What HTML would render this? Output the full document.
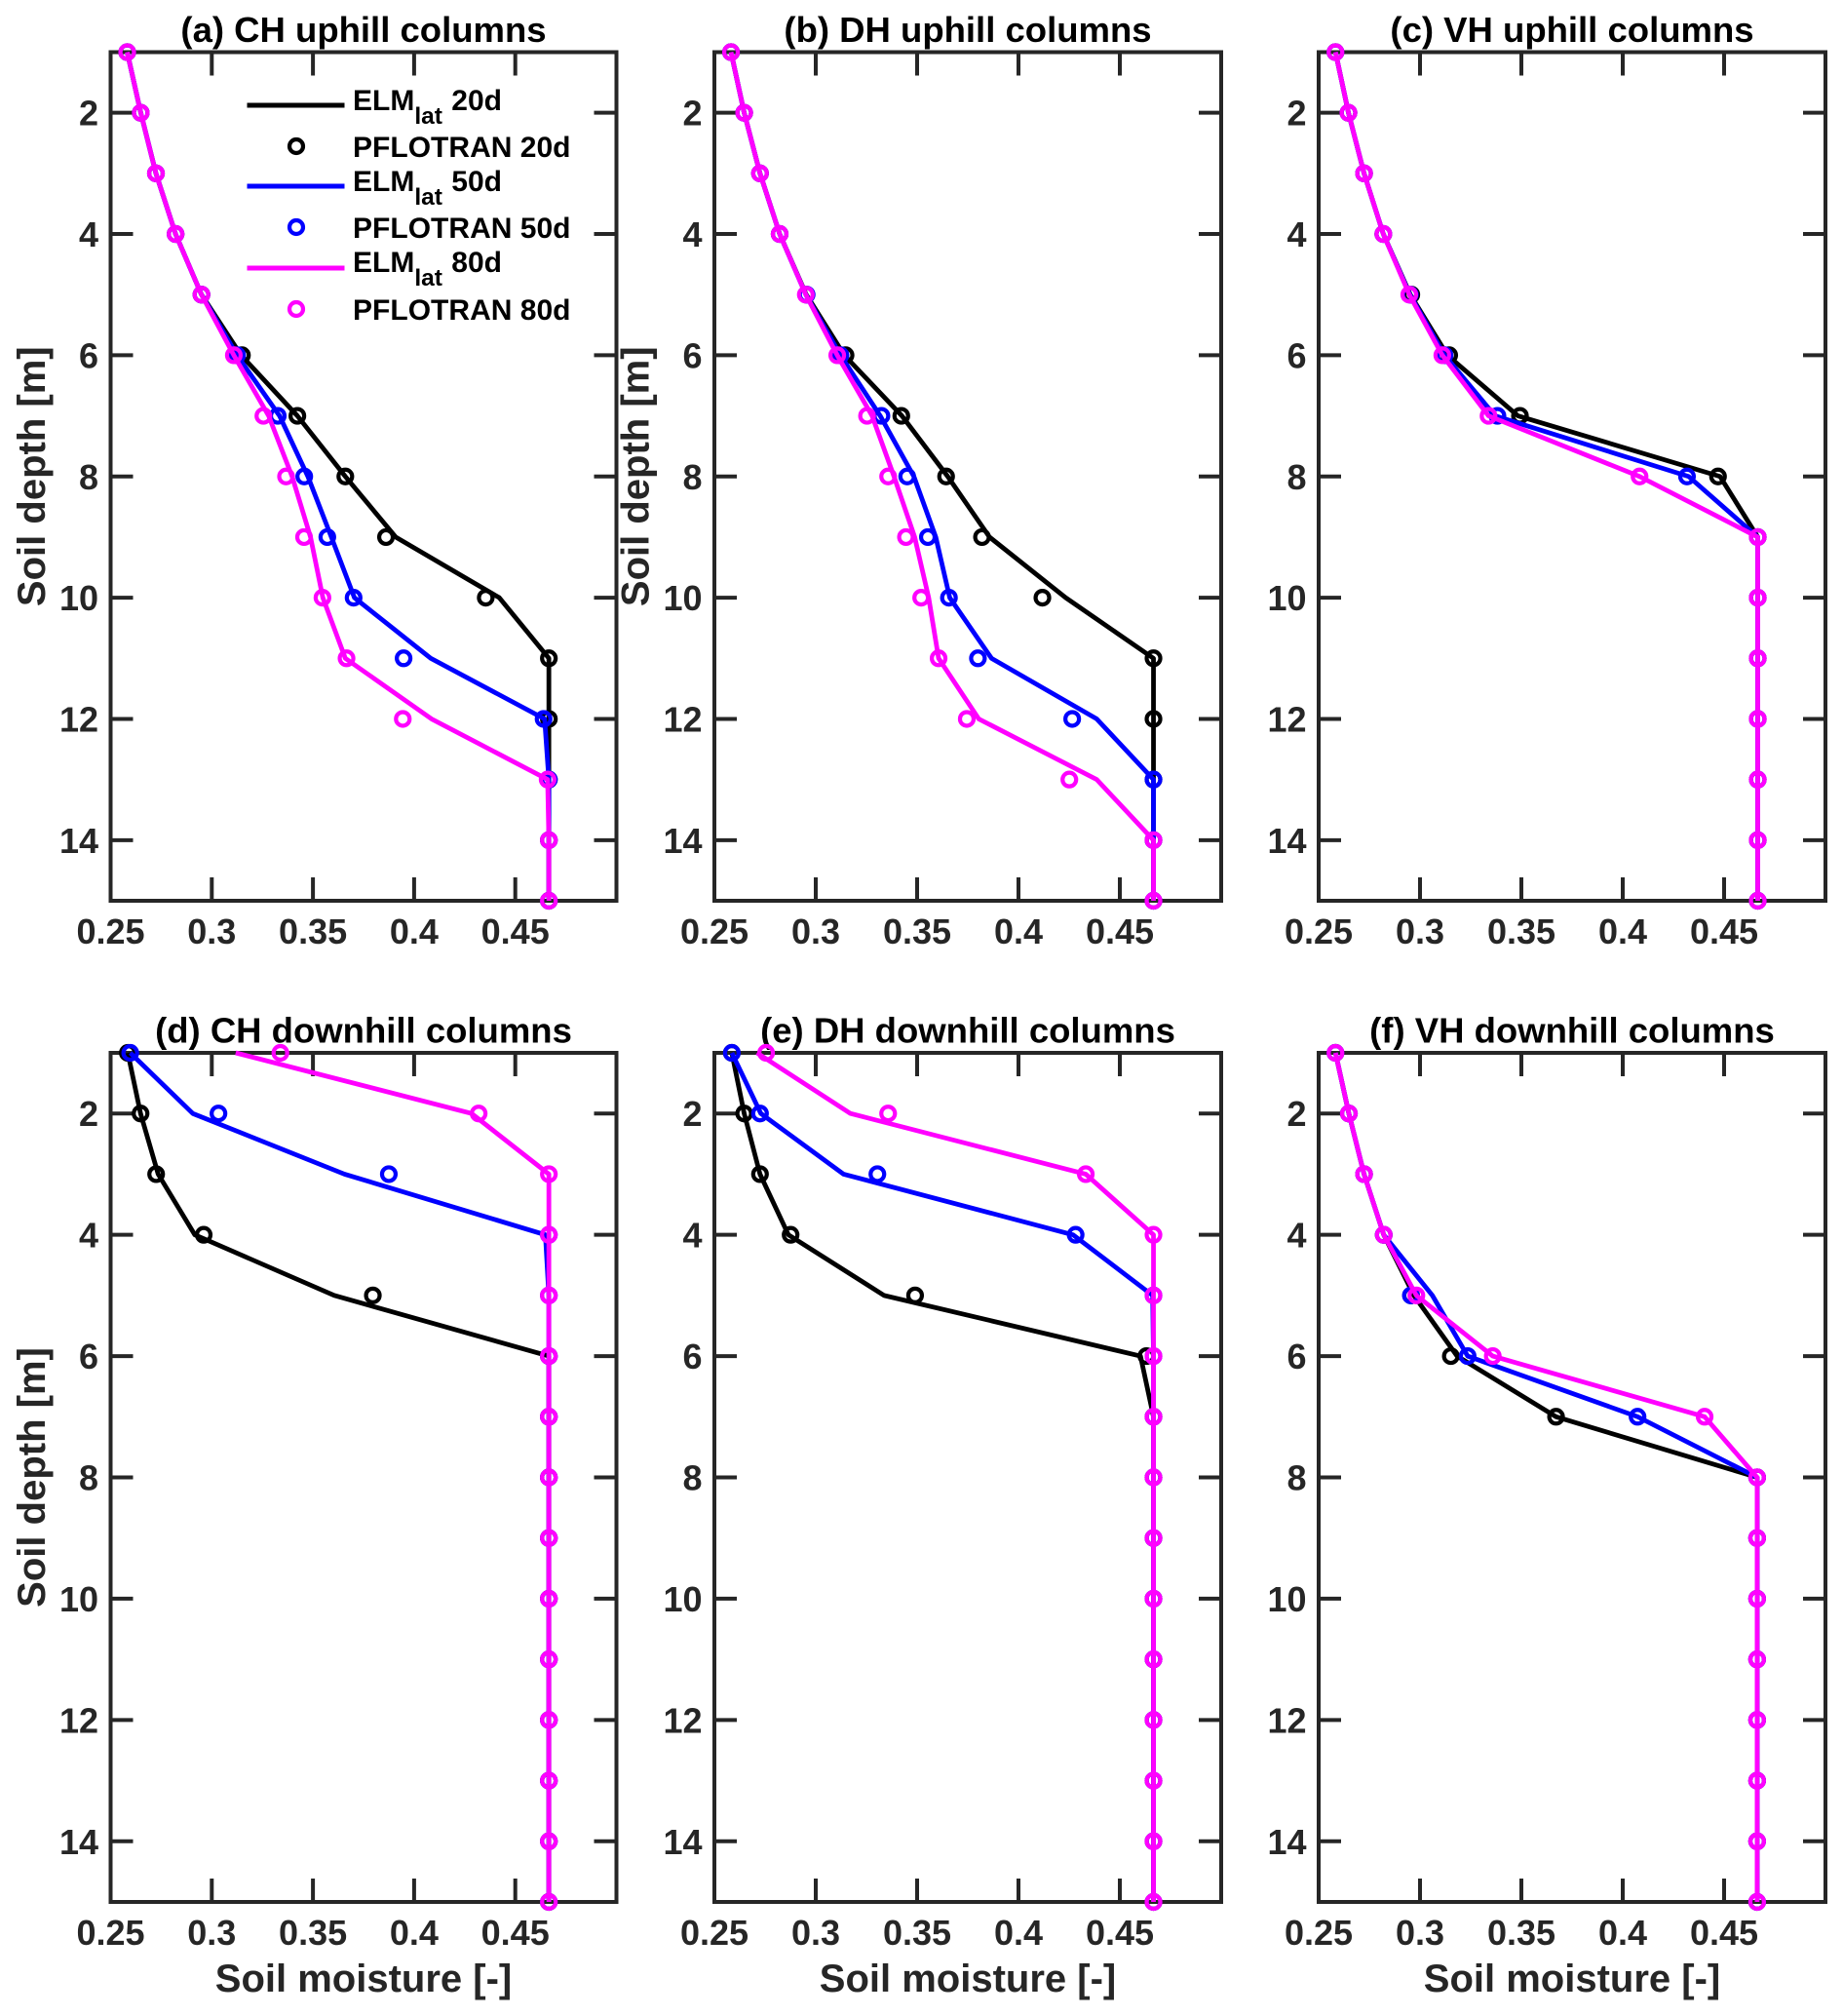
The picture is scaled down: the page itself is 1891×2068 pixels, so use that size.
<!DOCTYPE html>
<html lang="en">
<head>
<meta charset="utf-8">
<title>Soil moisture profiles</title>
<style>
html,body{margin:0;padding:0;background:#fff;}
body{width:1891px;height:2068px;overflow:hidden;}
svg{display:block;}
text{font-family:"Liberation Sans",Arial,sans-serif;font-weight:700;}
</style>
</head>
<body>
<svg id="figure" xmlns="http://www.w3.org/2000/svg" width="1891" height="2068" viewBox="0 0 1891 2068">
  <rect x="0" y="0" width="1891" height="2068" fill="#fff"/>
  <g id="panels"></g>
  <g id="legend" font-size="30" fill="#000">
    <g>
      <line x1="253.5" y1="108" x2="353.5" y2="108" stroke="#000" stroke-width="5"/>
      <text x="362" y="113">ELM<tspan font-size="24.5" dy="14">lat</tspan><tspan dy="-14" dx="1"> 20d</tspan></text>
    </g>
    <g>
      <circle cx="304" cy="150" r="7" fill="none" stroke="#000" stroke-width="4.2"/>
      <text x="362" y="161" textLength="223.5">PFLOTRAN 20d</text>
    </g>
    <g>
      <line x1="253.5" y1="191" x2="353.5" y2="191" stroke="#00f" stroke-width="5"/>
      <text x="362" y="196">ELM<tspan font-size="24.5" dy="14">lat</tspan><tspan dy="-14" dx="1"> 50d</tspan></text>
    </g>
    <g>
      <circle cx="304" cy="233" r="7" fill="none" stroke="#00f" stroke-width="4.2"/>
      <text x="362" y="244" textLength="223.5">PFLOTRAN 50d</text>
    </g>
    <g>
      <line x1="253.5" y1="275" x2="353.5" y2="275" stroke="#f0f" stroke-width="5"/>
      <text x="362" y="279">ELM<tspan font-size="24.5" dy="14">lat</tspan><tspan dy="-14" dx="1"> 80d</tspan></text>
    </g>
    <g>
      <circle cx="304" cy="317" r="7" fill="none" stroke="#f0f" stroke-width="4.2"/>
      <text x="362" y="328" textLength="223.5">PFLOTRAN 80d</text>
    </g>
  </g>
</svg>
<script>
// ---- shared axis data ----
const depths = [1,2,3,4,5,6,7,8,9,10,11,12,13,14,15];
const xTickValues = [0.25,0.3,0.35,0.4,0.45];
const xTickLabels = ['0.25','0.3','0.35','0.4','0.45'];
const yTickValues = [2,4,6,8,10,12,14];
const yTickLabels = ['2','4','6','8','10','12','14'];
const xLabelText = 'Soil moisture [-]';
const yLabelText = 'Soil depth [m]';

// ---- (a) CH uphill ----
const aElm20 = [.2582,.2649,.2724,.2821,.2949,.3145,.3423,.3660,.3909,.4421,.4666,.4666,.4666,.4666,.4666];
const aPfl20 = [.2582,.2649,.2724,.2821,.2949,.3149,.3423,.3660,.3861,.4354,.4666,.4666,.4666,.4666,.4666];
const aElm50 = [.2582,.2649,.2724,.2821,.2949,.3125,.3335,.3475,.3591,.3705,.4082,.4645,.4666,.4666,.4666];
const aPfl50 = [.2582,.2649,.2724,.2821,.2949,.3125,.3326,.3457,.3571,.3701,.3948,.4640,.4666,.4666,.4666];
const aElm80 = [.2582,.2649,.2724,.2821,.2949,.3109,.3281,.3397,.3488,.3549,.3660,.4086,.4660,.4666,.4666];
const aPfl80 = [.2582,.2649,.2724,.2821,.2949,.3109,.3255,.3367,.3456,.3547,.3666,.3944,.4660,.4666,.4666];

// ---- (b) DH uphill ----
const bElm20 = [.2582,.2647,.2725,.2822,.2953,.3141,.3425,.3651,.3857,.4233,.4666,.4666,.4666,.4666,.4666];
const bPfl20 = [.2582,.2647,.2725,.2822,.2953,.3147,.3422,.3643,.3820,.4118,.4666,.4666,.4666,.4666,.4666];
const bElm50 = [.2582,.2647,.2725,.2822,.2951,.3122,.3318,.3484,.3592,.3661,.3867,.4386,.4666,.4666,.4666];
const bPfl50 = [.2582,.2647,.2725,.2822,.2955,.3122,.3324,.3451,.3553,.3657,.3800,.4265,.4666,.4666,.4666];
const bElm80 = [.2582,.2647,.2725,.2822,.2951,.3106,.3278,.3386,.3488,.3557,.3606,.3804,.4386,.4666,.4666];
const bPfl80 = [.2582,.2647,.2725,.2822,.2951,.3106,.3253,.3357,.3445,.3520,.3606,.3745,.4251,.4666,.4666];

// ---- (c) VH uphill ----
const cElm20 = [.2583,.2647,.2724,.2819,.2952,.3135,.3483,.4480,.4666,.4666,.4666,.4666,.4666,.4666,.4666];
const cPfl20 = [.2583,.2647,.2724,.2819,.2957,.3144,.3493,.4470,.4666,.4666,.4666,.4666,.4666,.4666,.4666];
const cElm50 = [.2583,.2647,.2724,.2819,.2950,.3121,.3370,.4325,.4666,.4666,.4666,.4666,.4666,.4666,.4666];
const cPfl50 = [.2583,.2647,.2724,.2819,.2950,.3121,.3382,.4317,.4666,.4666,.4666,.4666,.4666,.4666,.4666];
const cElm80 = [.2583,.2647,.2724,.2819,.2947,.3110,.3338,.4083,.4666,.4666,.4666,.4666,.4666,.4666,.4666];
const cPfl80 = [.2583,.2647,.2724,.2819,.2947,.3110,.3338,.4083,.4666,.4666,.4666,.4666,.4666,.4666,.4666];

// ---- (d) CH downhill ----
const dElm20 = [.2585,.2648,.2735,.2916,.3605,.4666,.4666,.4666,.4666,.4666,.4666,.4666,.4666,.4666,.4666];
const dPfl20 = [.2585,.2648,.2725,.2960,.3796,.4666,.4666,.4666,.4666,.4666,.4666,.4666,.4666,.4666,.4666];
const dElm50 = [.2597,.2906,.3656,.4649,.4666,.4666,.4666,.4666,.4666,.4666,.4666,.4666,.4666,.4666,.4666];
const dPfl50 = [.2597,.3033,.3875,.4666,.4666,.4666,.4666,.4666,.4666,.4666,.4666,.4666,.4666,.4666,.4666];
const dElm80 = [.3118,.4284,.4666,.4666,.4666,.4666,.4666,.4666,.4666,.4666,.4666,.4666,.4666,.4666,.4666];
const dPfl80 = [.3339,.4319,.4666,.4666,.4666,.4666,.4666,.4666,.4666,.4666,.4666,.4666,.4666,.4666,.4666];

// ---- (e) DH downhill ----
const eElm20 = [.2586,.2647,.2725,.2865,.3337,.4602,.4666,.4666,.4666,.4666,.4666,.4666,.4666,.4666,.4666];
const ePfl20 = [.2586,.2647,.2725,.2876,.3490,.4631,.4666,.4666,.4666,.4666,.4666,.4666,.4666,.4666,.4666];
const eElm50 = [.2586,.2729,.3137,.4269,.4662,.4666,.4666,.4666,.4666,.4666,.4666,.4666,.4666,.4666,.4666];
const ePfl50 = [.2586,.2725,.3304,.4282,.4666,.4666,.4666,.4666,.4666,.4666,.4666,.4666,.4666,.4666,.4666];
const eElm80 = [.2710,.3171,.4332,.4666,.4666,.4666,.4666,.4666,.4666,.4666,.4666,.4666,.4666,.4666,.4666];
const ePfl80 = [.2755,.3357,.4332,.4666,.4666,.4666,.4666,.4666,.4666,.4666,.4666,.4666,.4666,.4666,.4666];

// ---- (f) VH downhill ----
const fElm20 = [.2583,.2649,.2724,.2821,.2970,.3183,.3671,.4663,.4663,.4663,.4663,.4663,.4663,.4663,.4663];
const fPfl20 = [.2583,.2649,.2724,.2821,.2956,.3152,.3671,.4663,.4663,.4663,.4663,.4663,.4663,.4663,.4663];
const fElm50 = [.2583,.2649,.2724,.2821,.3061,.3235,.4073,.4663,.4663,.4663,.4663,.4663,.4663,.4663,.4663];
const fPfl50 = [.2583,.2649,.2724,.2821,.2955,.3235,.4073,.4663,.4663,.4663,.4663,.4663,.4663,.4663,.4663];
const fElm80 = [.2583,.2649,.2724,.2821,.2982,.3359,.4404,.4663,.4663,.4663,.4663,.4663,.4663,.4663,.4663];
const fPfl80 = [.2583,.2649,.2724,.2821,.2982,.3359,.4404,.4663,.4663,.4663,.4663,.4663,.4663,.4663,.4663];

const panelData = [
  {id:'a', title:'(a) CH uphill columns',   row:0, col:0, yLabel:true,  xLabel:false, s:[[aElm20,aPfl20],[aElm50,aPfl50],[aElm80,aPfl80]]},
  {id:'b', title:'(b) DH uphill columns',   row:0, col:1, yLabel:true,  xLabel:false, s:[[bElm20,bPfl20],[bElm50,bPfl50],[bElm80,bPfl80]]},
  {id:'c', title:'(c) VH uphill columns',   row:0, col:2, yLabel:false, xLabel:false, s:[[cElm20,cPfl20],[cElm50,cPfl50],[cElm80,cPfl80]]},
  {id:'d', title:'(d) CH downhill columns', row:1, col:0, yLabel:true,  xLabel:true,  s:[[dElm20,dPfl20],[dElm50,dPfl50],[dElm80,dPfl80]]},
  {id:'e', title:'(e) DH downhill columns', row:1, col:1, yLabel:false, xLabel:true,  s:[[eElm20,ePfl20],[eElm50,ePfl50],[eElm80,ePfl80]]},
  {id:'f', title:'(f) VH downhill columns', row:1, col:2, yLabel:false, xLabel:true,  s:[[fElm20,fPfl20],[fElm50,fPfl50],[fElm80,fPfl80]]}
];

const seriesColors = ['#000','#00f','#f0f'];
const seriesDays = ['20d','50d','80d'];

// ---- layout ----
const colEdges = [[113.5,632.5],[733,1253],[1353,1873]];
const rowEdges = [[53.5,924],[1080,1951]];
const xDomain = [0.25,0.5];
const yDomain = [1,15];
const axisColor = '#262626';
const NS = 'http://www.w3.org/2000/svg';
const root = document.getElementById('panels');

function mk(tag, attrs, parent){
  const n = document.createElementNS(NS, tag);
  for(const k in attrs){ n.setAttribute(k, attrs[k]); }
  parent.appendChild(n);
  return n;
}

panelData.forEach(function(p){
  const L = colEdges[p.col][0], R = colEdges[p.col][1];
  const T = rowEdges[p.row][0], B = rowEdges[p.row][1];
  const xs = function(v){ return L + (v - xDomain[0]) / (xDomain[1] - xDomain[0]) * (R - L); };
  const ys = function(d){ return T + (d - yDomain[0]) / (yDomain[1] - yDomain[0]) * (B - T); };

  const g = mk('g', {}, root);
  
  

  const box = mk('rect', {x:L, y:T, width:R-L, height:B-T, fill:'none', stroke:axisColor, 'stroke-width':4}, g);
  
  

  xTickValues.forEach(function(v, i){
    const x = xs(v);
    const t1 = mk('line', {x1:x, x2:x, y1:B, y2:B-24, stroke:axisColor, 'stroke-width':4}, g);
    
    
    const t2 = mk('line', {x1:x, x2:x, y1:T, y2:T+24, stroke:axisColor, 'stroke-width':4}, g);
    
    
    const lab = mk('text', {x:x, y:B+44, 'text-anchor':'middle', 'font-size':36, fill:axisColor}, g);
    
    
    lab.textContent = xTickLabels[i];
  });

  yTickValues.forEach(function(d, i){
    const y = ys(d);
    const t1 = mk('line', {x1:L, x2:L+23, y1:y, y2:y, stroke:axisColor, 'stroke-width':4}, g);
    
    
    const t2 = mk('line', {x1:R, x2:R-23, y1:y, y2:y, stroke:axisColor, 'stroke-width':4}, g);
    
    
    const lab = mk('text', {x:L-12.5, y:y+13, 'text-anchor':'end', 'font-size':36, fill:axisColor}, g);
    
    
    lab.textContent = yTickLabels[i];
  });

  const title = mk('text', {x:(L+R)/2, y:T-10.5, 'text-anchor':'middle', 'font-size':36.5, fill:'#000'}, g);
  
  
  title.textContent = p.title;

  if(p.xLabel){
    const xl = mk('text', {x:(L+R)/2, y:B+92, 'text-anchor':'middle', 'font-size':40, fill:axisColor}, g);
    
    
    xl.textContent = xLabelText;
  }
  if(p.yLabel){
    const yc = (T+B)/2, bx = L-67.5;
    const yl = mk('text', {x:bx, y:yc, 'text-anchor':'middle', 'font-size':40, fill:axisColor, transform:'rotate(-90 '+bx+' '+yc+')'}, g);
    
    
    yl.textContent = yLabelText;
  }

  p.s.forEach(function(pair, si){
    const color = seriesColors[si];
    const pts = pair[0].map(function(v, i){ return xs(v).toFixed(2) + ',' + ys(depths[i]).toFixed(2); }).join(' ');
    const line = mk('polyline', {points:pts, fill:'none', stroke:color, 'stroke-width':4.8, 'stroke-linejoin':'round'}, g);
    
    
    pair[1].forEach(function(v, i){
      const c = mk('circle', {cx:xs(v), cy:ys(depths[i]), r:7, fill:'none', stroke:color, 'stroke-width':4.2}, g);
      
      
    });
  });
});
</script>
</body>
</html>
